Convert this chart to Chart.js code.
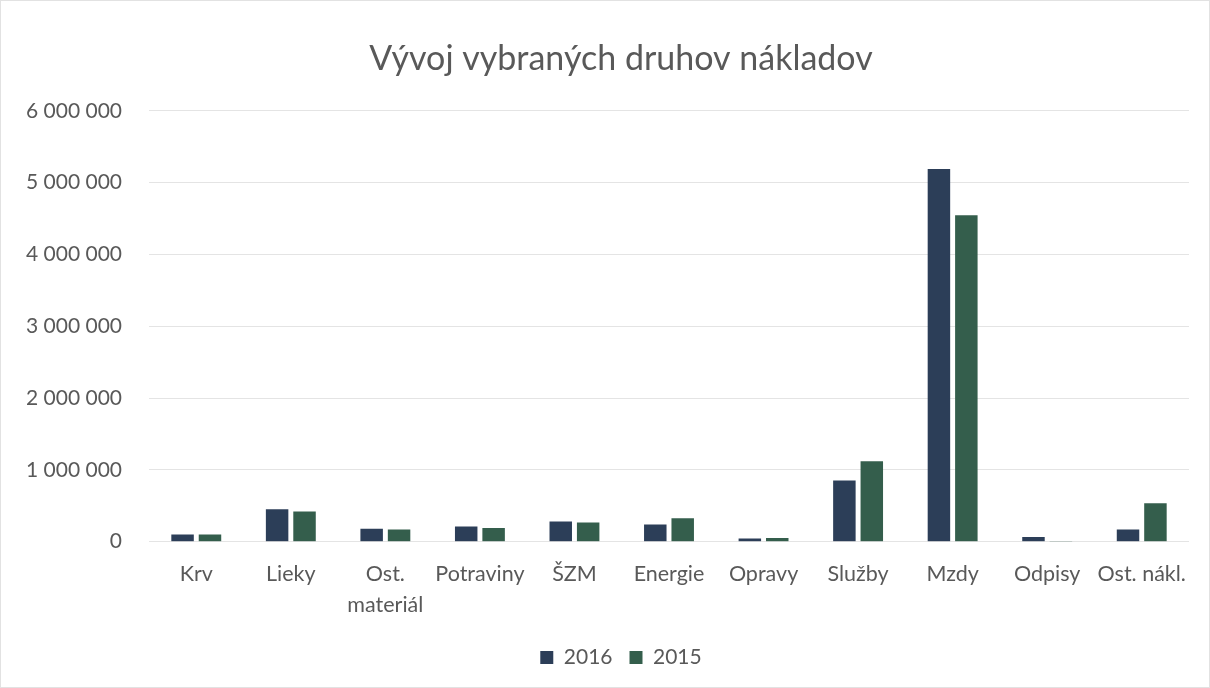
<!DOCTYPE html>
<html>
<head>
<meta charset="utf-8">
<script src="https://cdn.jsdelivr.net/npm/chart.js@4"></script>
<style>
    body { margin: 0; background: #fff; }
    #wrap { position: relative; width: 1210px; height: 688px; box-sizing: border-box; border: 1px solid #e2e2e2; }
</style>
</head>
<body>
<div id="wrap"><canvas id="costChart"></canvas></div>
<script>
// druhy nakladov
const categories = ['Krv', 'Lieky', ['Ost.', 'materiál'], 'Potraviny', 'ŠZM', 'Energie', 'Opravy', 'Služby', 'Mzdy', 'Odpisy', 'Ost. nákl.'];
const values2016 = [100000, 450000, 180000, 210000, 280000, 240000, 45000, 850000, 5190000, 65000, 170000];
const values2015 = [100000, 420000, 170000, 190000, 265000, 325000, 50000, 1120000, 4545000, 10000, 535000];
const yTicks = [0, 1000000, 2000000, 3000000, 4000000, 5000000, 6000000];

function formatNumber(v) {
    return String(v).replace(/\B(?=(\d{3})+(?!\d))/g, ' ');
}

const ctx = document.getElementById('costChart').getContext('2d');
new Chart(ctx, {
    type: 'bar',
    data: {
        labels: categories,
        datasets: [{
            label: '2016',
            data: values2016,
            backgroundColor: '#2c3e58',
            categoryPercentage: 0.58,
            barPercentage: 0.82
        }, {
            label: '2015',
            data: values2015,
            backgroundColor: '#345e4c',
            categoryPercentage: 0.58,
            barPercentage: 0.82
        }]
    },
    options: {
        responsive: true,
        maintainAspectRatio: false,
        animation: false,
        layout: { padding: { left: 52, right: 20, top: 30, bottom: 9 } },
        plugins: {
            title: {
                display: true,
                text: 'Vývoj vybraných druhov nákladov',
                color: '#595959',
                font: { family: 'Lato', size: 34, weight: 'normal' },
                padding: { top: 8, bottom: 31 }
            },
            legend: {
                position: 'bottom',
                labels: {
                    color: '#595959',
                    font: { family: 'Lato', size: 21 },
                    boxWidth: 13,
                    boxHeight: 13,
                    padding: 17
                }
            },
            tooltip: { enabled: false }
        },
        scales: {
            x: {
                grid: { display: false },
                border: { display: false },
                ticks: {
                    color: '#595959',
                    font: { family: 'Lato', size: 21.5, lineHeight: 1.45 },
                    padding: 9,
                    maxRotation: 0,
                    autoSkip: false
                }
            },
            y: {
                min: 0,
                max: 6000000,
                afterBuildTicks: axis => { axis.ticks = yTicks.map(v => ({ value: v })); },
                afterFit: axis => { axis.width = 96; },
                grid: { color: '#e4e4e4', drawTicks: false },
                border: { display: false },
                ticks: {
                    color: '#595959',
                    font: { family: 'Lato', size: 21 },
                    // mirror so the labels are not clipped to the axis box
                    mirror: true,
                    crossAlign: 'far',
                    padding: -123,
                    callback: v => formatNumber(v)
                }
            }
        }
    }
});
</script>
</body>
</html>
